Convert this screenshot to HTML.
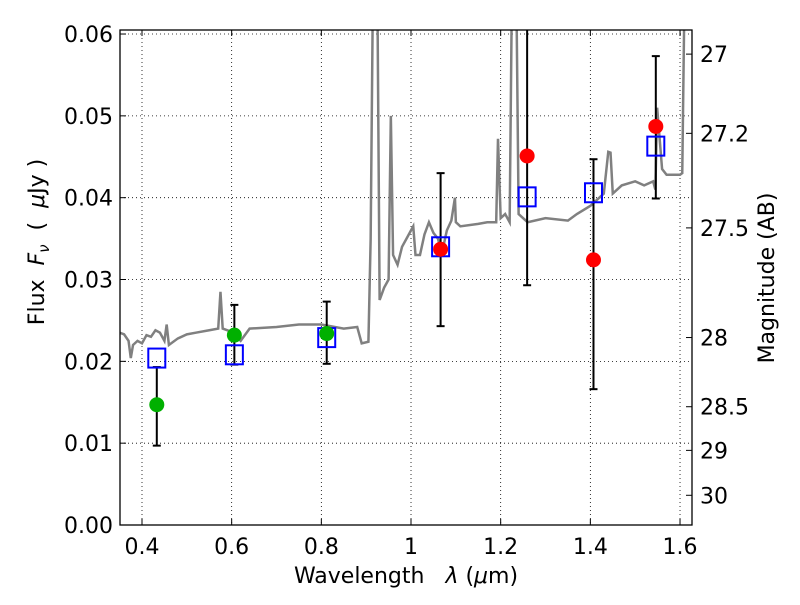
<!DOCTYPE html>
<html><head><meta charset="utf-8"><style>
body{margin:0;background:#fff}
svg text{font-family:"DejaVu Sans","Liberation Sans",sans-serif;fill:#000}
</style></head><body>
<svg id="chart" width="800" height="600" xmlns="http://www.w3.org/2000/svg">
<rect width="800" height="600" fill="#fff"/>
<g id="grid"></g>
<g id="spec"></g>
<g id="marks"></g>
<rect x="120" y="30" width="572" height="495" fill="none" stroke="#000" stroke-width="1.3"/>
<g id="axes"></g>
<text x="406" y="583" font-size="22" text-anchor="middle" xml:space="preserve">Wavelength   <tspan font-style="italic">λ</tspan> (<tspan font-style="italic">μ</tspan>m)</text>
<text transform="translate(44,242) rotate(-90)" font-size="22" text-anchor="middle" xml:space="preserve">Flux  <tspan font-style="italic">F</tspan><tspan font-style="italic" font-size="15" dy="5">ν</tspan><tspan dy="-5">  (  </tspan><tspan font-style="italic">μ</tspan>Jy )</text>
<text transform="translate(774,278) rotate(-90)" font-size="22" text-anchor="middle">Magnitude (AB)</text>
</svg>
<script>
const xTicks=[0.4,0.6,0.8,1.0,1.2,1.4,1.6];
const xTickLabels=["0.4","0.6","0.8","1","1.2","1.4","1.6"];
const yTicks=[0,0.01,0.02,0.03,0.04,0.05,0.06];
const yTickLabels=["0.00","0.01","0.02","0.03","0.04","0.05","0.06"];
const magTicks=[27,27.2,27.5,28,28.5,29,30];
const magLabels=["27","27.2","27.5","28","28.5","29","30"];
const specLam=[0.35,0.36,0.37,0.375,0.38,0.39,0.40,0.41,0.42,0.43,0.44,0.45,0.455,0.46,0.48,0.50,0.52,0.55,0.57,0.575,0.58,0.60,0.62,0.64,0.70,0.75,0.80,0.85,0.88,0.89,0.905,0.91,0.915,0.925,0.93,0.94,0.95,0.955,0.96,0.97,0.98,0.99,1.0,1.005,1.01,1.02,1.03,1.04,1.05,1.06,1.065,1.07,1.08,1.09,1.098,1.10,1.11,1.15,1.17,1.19,1.194,1.20,1.21,1.22,1.225,1.235,1.24,1.26,1.30,1.35,1.37,1.40,1.42,1.43,1.44,1.445,1.45,1.47,1.50,1.52,1.54,1.545,1.549,1.56,1.57,1.60,1.605,1.61,1.62];
const specFlux=[0.0235,0.0233,0.0225,0.0204,0.022,0.0225,0.0222,0.0232,0.023,0.0238,0.0235,0.0225,0.0245,0.022,0.0228,0.0233,0.0235,0.0238,0.024,0.0285,0.024,0.0236,0.0225,0.024,0.0242,0.0245,0.0245,0.024,0.0242,0.0222,0.0224,0.035,0.065,0.065,0.0275,0.029,0.030,0.050,0.033,0.0318,0.034,0.035,0.036,0.0365,0.033,0.033,0.0355,0.037,0.0357,0.035,0.034,0.0335,0.036,0.0372,0.040,0.037,0.0365,0.0368,0.037,0.037,0.0472,0.0375,0.038,0.037,0.065,0.065,0.038,0.037,0.0375,0.0372,0.038,0.039,0.040,0.0405,0.0456,0.0455,0.0405,0.0415,0.042,0.0415,0.042,0.041,0.051,0.0435,0.0428,0.0428,0.043,0.065,0.065];
const ptLam=[0.433,0.606,0.812,1.066,1.259,1.407,1.546];
const obsFlux=[0.0147,0.0232,0.0234,0.0337,0.0451,0.0324,0.0487];
const errHi=[0.0193,0.0269,0.0273,0.0430,0.0700,0.0447,0.0573];
const errLo=[0.0097,0.0196,0.0197,0.0243,0.0293,0.0166,0.0399];
const modelFlux=[0.0204,0.0208,0.0229,0.0340,0.0401,0.0406,0.0463];
const ptColor=["#00b000","#00b000","#00b000","#ff0000","#ff0000","#ff0000","#ff0000"];

const X=l=>142+(l-0.4)/0.2*89.67;
const Y=f=>525-f*8183;
const NS="http://www.w3.org/2000/svg";
function mk(t,a,p){const e=document.createElementNS(NS,t);for(const k in a)e.setAttribute(k,a[k]);p.appendChild(e);return e;}
const grid=document.getElementById('grid'),axes=document.getElementById('axes');
xTicks.forEach((v,i)=>{
 const g=mk('line',{x1:X(v),x2:X(v),y1:30,y2:525,stroke:'#000','stroke-width':0.8,'stroke-dasharray':'1,3'},grid);
 
 
 const t=mk('text',{x:X(v),y:554,'font-size':22,'text-anchor':'middle'},axes);t.textContent=xTickLabels[i];
 
 
 mk('line',{x1:X(v),x2:X(v),y1:525,y2:519,stroke:'#000'},axes);
 mk('line',{x1:X(v),x2:X(v),y1:30,y2:36,stroke:'#000'},axes);
});
yTicks.forEach((v,i)=>{
 const g=mk('line',{x1:120,x2:692,y1:Y(v),y2:Y(v),stroke:'#000','stroke-width':0.8,'stroke-dasharray':'1,3'},grid);
 
 
 const t=mk('text',{x:113,y:Y(v)+8,'font-size':22,'text-anchor':'end'},axes);t.textContent=yTickLabels[i];
 
 
 mk('line',{x1:120,x2:126,y1:Y(v),y2:Y(v),stroke:'#000'},axes);
});
magTicks.forEach((m,i)=>{
 const f=Math.pow(10,(23.9-m)/2.5),y=Y(f);
 mk('line',{x1:692,x2:686,y1:y,y2:y,stroke:'#000'},axes);
 const t=mk('text',{x:700,y:y+8,'font-size':22},axes);t.textContent=magLabels[i];
 
 
});
const clip=mk('clipPath',{id:'pc'},document.getElementById('chart'));
mk('rect',{x:120,y:30,width:572,height:495},clip);
const spec=document.getElementById('spec');spec.setAttribute('clip-path','url(#pc)');
const sp=mk('polyline',{points:specLam.map((l,i)=>X(l)+','+Y(specFlux[i])).join(' '),fill:'none',stroke:'#808080','stroke-width':2.5},spec);


const marks=document.getElementById('marks');marks.setAttribute('clip-path','url(#pc)');
ptLam.forEach((l,i)=>{
 const x=X(l);
 const e=mk('g',{},marks);
 
 
 mk('line',{x1:x,x2:x,y1:Y(errHi[i]),y2:Y(errLo[i]),stroke:'#000','stroke-width':2},e);
 mk('line',{x1:x-4,x2:x+4,y1:Y(errHi[i]),y2:Y(errHi[i]),stroke:'#000','stroke-width':2},e);
 mk('line',{x1:x-4,x2:x+4,y1:Y(errLo[i]),y2:Y(errLo[i]),stroke:'#000','stroke-width':2},e);
 const s=mk('rect',{x:x-8.5,y:Y(modelFlux[i])-9.5,width:17,height:19,fill:'none',stroke:'#0000ff','stroke-width':2},marks);
 
 
 const c=mk('circle',{cx:x,cy:Y(obsFlux[i]),r:7.5,fill:ptColor[i]},marks);
 
 
});
</script>
</body></html>
